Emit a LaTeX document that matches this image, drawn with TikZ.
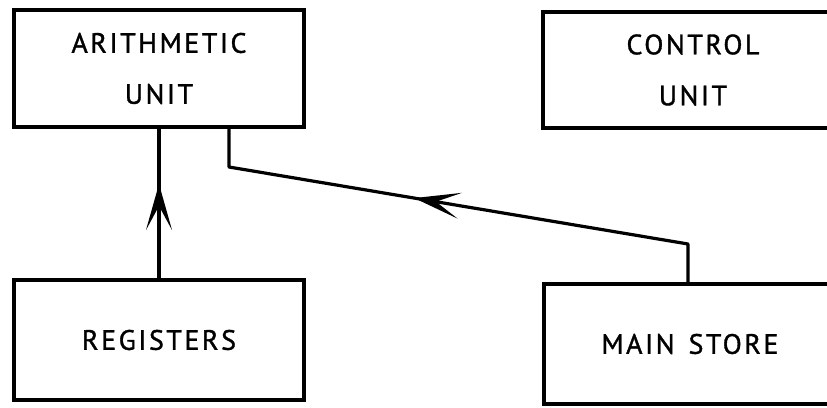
\documentclass[tikz,border=0pt]{standalone}
\usepackage{fontspec}
\setmainfont{PT Sans}[LetterSpace=9,FakeBold=1.2]
\usetikzlibrary{arrows.meta,decorations.markings}
\tikzset{
  unitbox/.style={draw, line width=3.2pt, rectangle, inner sep=0pt, align=center,
    font=\fontsize{28}{51}\selectfont},
  conn/.style={line width=3.2pt, line join=round},
  midarrow/.style={postaction={decorate}, decoration={markings,
    mark=at position #1 with {\arrow{Stealth[length=46pt,width=26pt,inset=24pt]}}}}
}
\begin{document}
\begin{tikzpicture}[x=1pt,y=-1pt]
\clip (0,0) rectangle (827,407);
\fill[white] (0,0) rectangle (827,407);
\node[unitbox, minimum width=290pt, minimum height=117pt] (arith) at (159,68.5) {ARITHMETIC\\UNIT};
\node[unitbox, minimum width=300pt, minimum height=116pt] (ctrl) at (693,70) {CONTROL\\UNIT};
\node[unitbox, minimum width=290pt, minimum height=120pt] (reg) at (159,340) {REGISTERS};
\node[unitbox, minimum width=292pt, minimum height=120pt] (main) at (690,344) {MAIN\hspace{0.5em}STORE};
\coordinate (c1) at (688,244);
\coordinate (c2) at (229,167);
\draw[conn, midarrow=0.63] (reg.north) -- (arith.south);
\draw[conn, midarrow=316pt] (main.north -| c1) -- (c1) -- (c2) -- (c2 |- arith.south);
\end{tikzpicture}
\end{document}
